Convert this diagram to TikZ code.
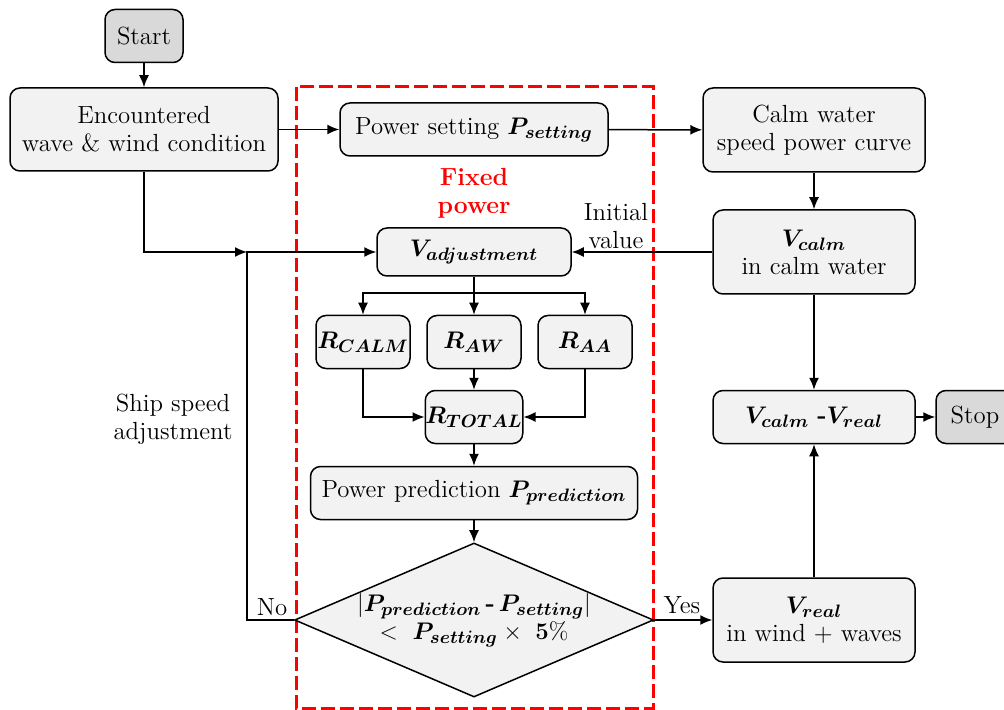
\documentclass[tikz,border=0pt]{standalone}
\usepackage{xcolor}
\usepackage{tikz}
\usepackage{amssymb,amsmath,bm}
\usetikzlibrary{shapes.geometric,arrows.meta}

\definecolor{boxfill}{HTML}{F2F2F2}
\definecolor{termfill}{HTML}{D9D9D9}

\begin{document}
\begin{tikzpicture}[
		x=0.5pt, y=-0.5pt,
		font=\fontsize{12.4pt}{14pt}\selectfont,
		box/.style = {shape=rectangle, rounded corners=5pt,
			draw, line width=0.75pt, align=center, fill=boxfill, inner sep=2pt},
		terminal/.style = {box, fill=termfill,
			minimum width=39pt, minimum height=26.5pt},
		rbox/.style = {box, inner xsep=0pt, minimum width=47pt, minimum height=26.5pt},
		decision/.style = {shape=diamond, draw, line width=0.75pt, fill=boxfill,
			align=center, inner sep=0pt, aspect=2.33,
			minimum width=177pt, minimum height=76pt},
		flow/.style = {draw, line width=0.75pt, -{Latex[length=6pt,width=5pt]}},
		plain/.style = {draw, line width=0.75pt}]
		\useasboundingbox (0,0) rectangle (1004,710);
		% fixed power frame
		\draw[red, line width=1.5pt, dash pattern=on 7pt off 2.5pt] (296,87) rectangle (653,708);
		\node[text=red, font=\fontsize{12.4pt}{14pt}\selectfont\bfseries, align=center] (fixed) at (474,193) {Fixed\\power};
		% nodes
		\node[terminal] (start) at (144,36) {Start};
		\node[box, minimum width=134pt, minimum height=41.5pt] (enc) at (144,129.5) {Encountered\\wave \& wind condition};
		\node[box, minimum width=134pt, minimum height=26.5pt] (pset) at (474,129.5) {Power setting $\boldsymbol{P_{setting}}$};
		\node[box, minimum width=111pt, minimum height=42pt] (curve) at (814,130) {Calm water\\speed power curve};
		\node[box, minimum width=97pt, minimum height=24pt] (vadj) at (474,252) {$\boldsymbol{V_{adjustment}}$};
		\node[box, minimum width=101pt, minimum height=42pt] (vcalm) at (814,252) {$\boldsymbol{V_{calm}}$\\in calm water};
		\node[rbox] (rcalm) at (363,342) {$\boldsymbol{R_{CALM}}$};
		\node[rbox] (raw) at (474,342) {$\boldsymbol{R_{AW}}$};
		\node[rbox] (raa) at (585,342) {$\boldsymbol{R_{AA}}$};
		\node[rbox] (rtot) at (474,417) {$\boldsymbol{R_{TOTAL}}$};
		\node[box, minimum width=163.5pt, minimum height=26.5pt] (ppred) at (474,493) {Power prediction $\boldsymbol{P_{prediction}}$};
		\node[decision] (check) at (474,620) {$|\boldsymbol{P_{prediction}}\,\textbf{-}\,\boldsymbol{P_{setting}}|$\\$<\ \boldsymbol{P_{setting}}\times\ \mathbf{5\%}$};
		\node[box, minimum width=101pt, minimum height=26.5pt] (diff) at (814,417) {$\boldsymbol{V_{calm}}$ \textbf{-}$\boldsymbol{V_{real}}$};
		\node[terminal] (stop) at (975,417) {Stop};
		\node[box, minimum width=101pt, minimum height=42pt] (vreal) at (814,620) {$\boldsymbol{V_{real}}$\\in wind + waves};
		% labels
		\node[align=center] (initval) at (616,226) {Initial\\value};
		\node[align=center] (shipadj) at (173,419) {Ship speed\\adjustment};
		\node (nolbl) at (272,607) {No};
		\node (yeslbl) at (682,605) {Yes};
		% junctions
		\coordinate (join) at (247,252);
		\coordinate (loop) at (247,620);
		\coordinate (bus) at (474,293);
		% connectors
		\path[flow] (start) -- (enc);
		\path[flow] (enc) -- (pset);
		\path[flow] (pset) -- (curve);
		\path[flow] (curve) -- (vcalm);
		\path[flow] (vcalm) -- (vadj);
		\path[flow] (enc.south) |- (join);
		\path[flow] (check.west) -- (loop) -- (join) -- (vadj.west);
		\path[plain] (vadj.south) -- (bus);
		\path[flow] (bus) -| (rcalm.north);
		\path[flow] (bus) -- (raw.north);
		\path[flow] (bus) -| (raa.north);
		\path[flow] (rcalm.south) |- (rtot.west);
		\path[flow] (raa.south) |- (rtot.east);
		\path[flow] (raw) -- (rtot);
		\path[flow] (rtot) -- (ppred);
		\path[flow] (ppred) -- (check);
		\path[flow] (check.east) -- (vreal.west);
		\path[flow] (vcalm) -- (diff);
		\path[flow] (vreal) -- (diff);
		\path[flow] (diff) -- (stop);
		\end{tikzpicture}
\end{document}
